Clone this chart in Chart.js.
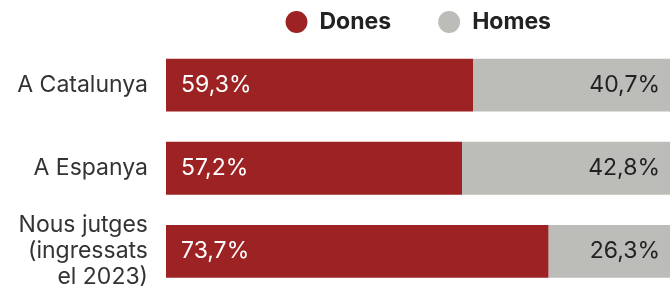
<!DOCTYPE html>
<html>
<head>
<meta charset="utf-8">
<script src="https://cdn.jsdelivr.net/npm/chart.js@4.4.0/dist/chart.umd.min.js"></script>
<style>
  html, body { margin: 0; padding: 0; background: #fff; }
  #wrap { width: 670px; height: 295px; }
</style>
</head>
<body>
<div id="wrap"><canvas id="myChart"></canvas></div>
<script>
// data
let categories = [["A Catalunya"], ["A Espanya"], ["Nous jutges", "(ingressats", "el 2023)"]];
let dones = [59.3, 57.2, 73.7];
let homes = [40.7, 42.8, 26.3];
let seriesNames = ["Dones", "Homes"];

let red = "#9c2224",
  grey = "#bcbcb8";

// format 59.3 -> 59,3%
function fmt(v) {
  return v.toFixed(1).replace(".", ",") + "%";
}

// draw the values inside the bars
const barValues = {
  id: "barValues",
  afterDatasetsDraw(chart) {
    let ctx = chart.ctx;
    ctx.save();
    ctx.font = "400 23px Inter";
    ctx.textBaseline = "middle";
    chart.data.datasets.forEach((ds, i) => {
      let meta = chart.getDatasetMeta(i);
      meta.data.forEach((bar, j) => {
        if (i == 0) {
          ctx.fillStyle = "#ffffff";
          ctx.textAlign = "left";
          ctx.fillText(fmt(ds.data[j]), chart.chartArea.left + 15, bar.y);
        } else {
          ctx.fillStyle = "#222222";
          ctx.textAlign = "right";
          ctx.fillText(fmt(ds.data[j]), chart.chartArea.right - 10, bar.y);
        }
      });
    });
    ctx.restore();
  },
};

let ctx = document.getElementById("myChart").getContext("2d");
let myChart = new Chart(ctx, {
  type: "bar",
  data: {
    labels: categories,
    datasets: [
      { label: seriesNames[0], data: dones, backgroundColor: red, borderWidth: 0 },
      { label: seriesNames[1], data: homes, backgroundColor: grey, borderWidth: 0 },
    ],
  },
  options: {
    indexAxis: "y",
    responsive: true,
    maintainAspectRatio: false,
    animation: false,
    layout: { padding: { top: -36, bottom: 2 } },
    datasets: { bar: { categoryPercentage: 1, barPercentage: 0.635 } },
    scales: {
      x: {
        stacked: true,
        min: 0.7,
        max: 96.9,
        display: false,
      },
      y: {
        stacked: true,
        grid: { display: false, drawTicks: false },
        border: { display: false },
        afterFit: (s) => {
          s.width = 166;
          // let the multi-line label hang below the last bar
          s.paddingTop = 0;
          s.paddingBottom = 0;
        },
        ticks: {
          padding: 18,
          color: "#333333",
          font: { family: "Inter", size: 23, lineHeight: 1.13 },
        },
      },
    },
    plugins: {
      tooltip: { enabled: false },
      legend: {
        position: "top",
        fullSize: false,
        labels: {
          usePointStyle: true,
          pointStyle: "circle",
          boxHeight: 15.5,
          boxWidth: 30,
          padding: 46.5,
          color: "#222222",
          font: { family: "Inter", size: 23, weight: "bold" },
        },
      },
    },
  },
  plugins: [barValues],
});
</script>
</body>
</html>
